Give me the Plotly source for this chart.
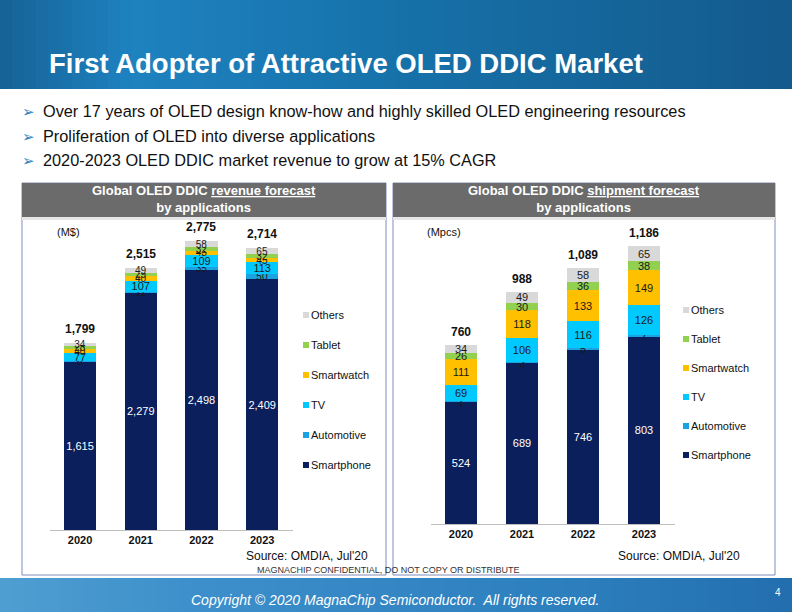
import plotly.graph_objects as go

W, H = 792, 612

years = ["2020", "2021", "2022", "2023"]
apps = ["Smartphone", "Automotive", "TV", "Smartwatch", "Tablet", "Others"]
app_colors = ["#0b1f5c", "#1aa3e0", "#00c9ff", "#ffc000", "#92d050", "#d9d9d9"]

# Revenue forecast (M$)
rev_smartphone = [1615, 2279, 2498, 2409]
rev_automotive = [6, 11, 35, 50]
rev_tv = [77, 107, 109, 113]
rev_smartwatch = [40, 40, 43, 45]
rev_tablet = [28, 29, 32, 32]
rev_others = [34, 49, 58, 65]
rev_totals = [1799, 2515, 2775, 2714]

# Shipment forecast (Mpcs)
shp_smartphone = [524, 689, 746, 803]
shp_automotive = [1, 2, 5, 7]
shp_tv = [69, 106, 116, 126]
shp_smartwatch = [111, 118, 133, 149]
shp_tablet = [26, 30, 36, 38]
shp_others = [34, 49, 58, 65]
shp_totals = [760, 988, 1089, 1186]

rev_series = [rev_smartphone, rev_automotive, rev_tv, rev_smartwatch, rev_tablet, rev_others]
shp_series = [shp_smartphone, shp_automotive, shp_tv, shp_smartwatch, shp_tablet, shp_others]

FONT = "Liberation Sans, Arial, sans-serif"

def px(x):
    return x / W

def py(y):
    return 1 - y / H

fig = go.Figure()

for series, xa, ya, small in [(rev_series, "x", "y", 10), (shp_series, "x2", "y2", 11)]:
    for name, vals, col in zip(apps, series, app_colors):
        fig.add_trace(go.Bar(
            x=years, y=vals, name=name, xaxis=xa, yaxis=ya,
            marker=dict(color=col, line=dict(width=0)),
            texttemplate="%{y:,}", textposition="inside", textangle=0,
            insidetextanchor="middle", constraintext="none",
            textfont=dict(family=FONT, size=11 if name in ("Smartphone", "TV") else small,
                          color="white" if name == "Smartphone" else "#1a1a1a"),
            showlegend=False, hoverinfo="skip",
        ))

annotations = []
for totals, xa, ya in [(rev_totals, "x", "y"), (shp_totals, "x2", "y2")]:
    for i, t in enumerate(totals):
        annotations.append(dict(
            x=i, y=t, xref=xa, yref=ya, text=f"<b>{t:,}</b>", showarrow=False,
            yanchor="bottom", yshift=5,
            font=dict(family=FONT, size=12, color="#111")))

shapes = []

# header / footer bands with horizontal gradient (stepped strips)
def lerp_color(stops, x):
    for (x0, c0), (x1, c1) in zip(stops, stops[1:]):
        if x0 <= x <= x1:
            t = (x - x0) / (x1 - x0)
            return "rgb(%d,%d,%d)" % tuple(round(a + (b - a) * t) for a, b in zip(c0, c1))
    return "rgb(%d,%d,%d)" % stops[-1][1]

head_stops = [(0, (22, 98, 150)), (130, (30, 130, 192)), (420, (22, 112, 168)), (792, (20, 90, 140))]
foot_stops = [(0, (80, 158, 210)), (200, (60, 143, 202)), (550, (45, 128, 190)), (792, (35, 110, 175))]
N = 66
for i in range(N):
    x0 = W * i / N
    x1 = W * (i + 1) / N
    xm = (x0 + x1) / 2
    shapes.append(dict(type="rect", xref="paper", yref="paper", x0=px(x0), x1=min(1, px(x1) + 0.001),
                       y0=py(89), y1=1, fillcolor=lerp_color(head_stops, xm), line=dict(width=0),
                       layer="below"))
    shapes.append(dict(type="rect", xref="paper", yref="paper", x0=px(x0), x1=min(1, px(x1) + 0.001),
                       y0=0, y1=py(578), fillcolor=lerp_color(foot_stops, xm), line=dict(width=0),
                       layer="below"))

# panels
for (l, r) in [(22, 386), (393, 775)]:
    shapes.append(dict(type="rect", xref="paper", yref="paper", x0=px(l), x1=px(r),
                       y0=py(575), y1=py(183), fillcolor="white",
                       line=dict(color="#7f8cbb", width=1), layer="below"))
    shapes.append(dict(type="rect", xref="paper", yref="paper", x0=px(l), x1=px(r),
                       y0=py(217), y1=py(183), fillcolor="#6b6b6b",
                       line=dict(width=0), layer="below"))
    shapes.append(dict(type="rect", xref="paper", yref="paper", x0=px(l), x1=px(r),
                       y0=py(220), y1=py(217), fillcolor="#e6e6e6",
                       line=dict(width=0), layer="below"))

# text helper
def txt(x, y, text, size, color="#000", xanchor="left", yanchor="middle", bold=False, italic=False,
        family=FONT):
    t = text
    if bold:
        t = f"<b>{t}</b>"
    if italic:
        t = f"<i>{t}</i>"
    annotations.append(dict(x=px(x), y=py(y), xref="paper", yref="paper", text=t,
                            showarrow=False, xanchor=xanchor, yanchor=yanchor,
                            font=dict(family=family, size=size, color=color)))

# manual legends (Others on top)
for lx, ly0, step in [(303, 315, 30), (683, 310, 29)]:
    for k, (name, col) in enumerate(reversed(list(zip(apps, app_colors)))):
        yy = ly0 + k * step
        shapes.append(dict(type="rect", xref="paper", yref="paper",
                           x0=px(lx), x1=px(lx + 6), y0=py(yy + 3), y1=py(yy - 3),
                           fillcolor=col, line=dict(width=0)))
        txt(lx + 6, yy, name, 11, "#111")

txt(47, 64, "First Adopter of Attractive OLED DDIC Market", 27.5, "white", bold=True)

bullets = [
    "Over 17 years of OLED design know-how and highly skilled OLED engineering resources",
    "Proliferation of OLED into diverse applications",
    "2020-2023 OLED DDIC market revenue to grow at 15% CAGR",
]
for i, b in enumerate(bullets):
    yy = 111 + i * 24.5
    txt(20, yy + 1, "➢", 15, "#2f7fc1", family="DejaVu Sans")
    txt(41, yy, b, 16.3, "#111")

txt(204, 199.5, "Global OLED DDIC <u>revenue forecast</u><br>by applications", 13, "white",
    xanchor="center", bold=True)
txt(584, 199.5, "Global OLED DDIC <u>shipment forecast</u><br>by applications", 13, "white",
    xanchor="center", bold=True)

txt(55, 232, "(M$)", 11, "#111")
txt(425, 232, "(Mpcs)", 11, "#111")

txt(370, 556, "Source: OMDIA, Jul'20", 12, "#111", xanchor="right")
txt(742, 556, "Source: OMDIA, Jul'20", 12, "#111", xanchor="right")
txt(388, 570, "MAGNACHIP CONFIDENTIAL, DO NOT COPY OR DISTRIBUTE", 9, "#333", xanchor="center")
txt(395, 600, "Copyright © 2020 MagnaChip Semiconductor.\u00a0 All rights reserved.", 14, "white",
    xanchor="center", italic=True)
txt(778, 592, "4", 10, "white", xanchor="center")

axis_common = dict(showgrid=False, zeroline=False, fixedrange=True, automargin=False)
fig.update_layout(
    width=W, height=H, margin=dict(l=0, r=0, t=0, b=0, autoexpand=False),
    paper_bgcolor="white", plot_bgcolor="rgba(0,0,0,0)",
    barmode="stack", bargap=0.47, showlegend=False,
    font=dict(family=FONT, size=11, color="#111"),
    xaxis=dict(domain=[px(49.7), px(292.5)], anchor="y", type="category", range=[-0.5, 3.5],
               showline=True, linecolor="#bfbfbf", linewidth=1, ticks="",
               tickfont=dict(family=FONT, size=11, color="#111", weight="bold"), **axis_common),
    yaxis=dict(domain=[py(530), py(220)], anchor="x", range=[0, 2980], visible=False, **axis_common),
    xaxis2=dict(domain=[px(430.5), px(674.5)], anchor="y2", type="category", range=[-0.5, 3.5],
                showline=True, linecolor="#bfbfbf", linewidth=1, ticks="",
                tickfont=dict(family=FONT, size=11, color="#111", weight="bold"), **axis_common),
    yaxis2=dict(domain=[py(524), py(220)], anchor="x2", range=[0, 1300], visible=False, **axis_common),
    shapes=shapes, annotations=annotations,
)

fig.write_html("out.html", config={"displayModeBar": False},
               post_script="document.body.style.margin='0';document.body.style.overflow='hidden';")
